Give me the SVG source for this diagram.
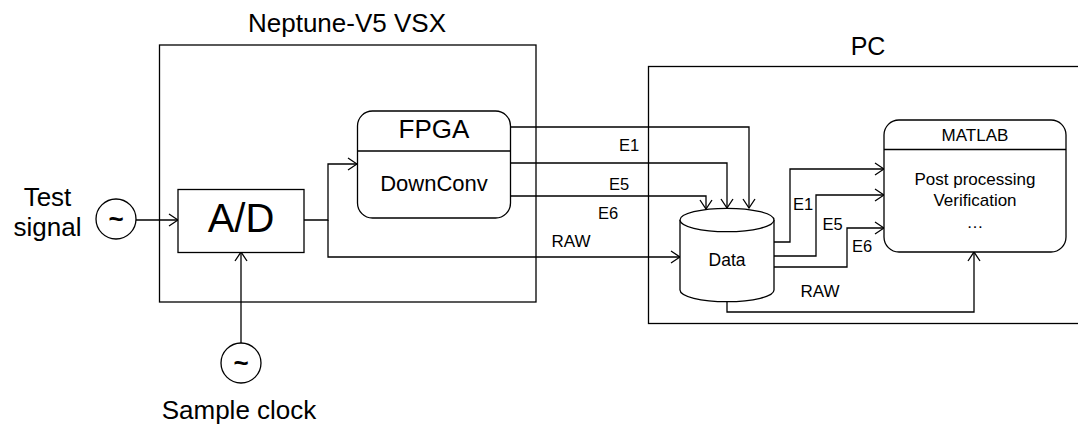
<svg xmlns="http://www.w3.org/2000/svg" width="1078" height="429" viewBox="0 0 1078 429">
<style>
.ln{fill:none;stroke:#000;stroke-width:1.3}
.bx{fill:#fff;stroke:#000;stroke-width:1.3}
.fr{fill:none;stroke:#000;stroke-width:1.3}
text{font-family:"Liberation Sans",Arial,sans-serif;fill:#000;text-anchor:middle}
</style>
<defs>
<marker id="arr" viewBox="-11 -7 12 14" markerWidth="12" markerHeight="14" refX="0" refY="0" orient="auto" markerUnits="userSpaceOnUse">
<path d="M-9,-6 L0,0 L-9,6" fill="none" stroke="#000" stroke-width="1.3"/>
</marker>
</defs>
<rect fill="#fff" width="1078" height="429"/>
<g id="neptune">
<rect class="fr" x="159.5" y="45" width="376.5" height="257"/>
<text x="347" y="32" font-size="26">Neptune-V5 VSX</text>
</g>
<g id="pc">
<rect class="fr" x="648.5" y="66.5" width="500" height="257"/>
<text x="868" y="55" font-size="25">PC</text>
</g>
<g id="connectors">
<path class="ln" d="M136,220 H178" marker-end="url(#arr)"/>
<path class="ln" d="M241,343 V252" marker-end="url(#arr)"/>
<path class="ln" d="M304,220 H328 V164 H357" marker-end="url(#arr)"/>
<path class="ln" d="M328,220 V257 H680" marker-end="url(#arr)"/>
<path class="ln" d="M511,127 H749 V208" marker-end="url(#arr)"/>
<path class="ln" d="M511,163 H727 V208" marker-end="url(#arr)"/>
<path class="ln" d="M511,196 H706 V209" marker-end="url(#arr)"/>
<path class="ln" d="M774,242 H790 V169 H884" marker-end="url(#arr)"/>
<path class="ln" d="M774,256 H816 V195 H884" marker-end="url(#arr)"/>
<path class="ln" d="M774,267 H847 V228 H884" marker-end="url(#arr)"/>
<path class="ln" d="M727,302 V312 H974 V252" marker-end="url(#arr)"/>
<text x="629" y="151" font-size="16.5">E1</text>
<text x="619" y="190" font-size="16.5">E5</text>
<text x="608" y="219" font-size="16.5">E6</text>
<text x="571" y="247" font-size="17">RAW</text>
<text x="803" y="210" font-size="16.5">E1</text>
<text x="832.5" y="230" font-size="16.5">E5</text>
<text x="862" y="252" font-size="16.5">E6</text>
<text x="820" y="297" font-size="17">RAW</text>
</g>
<g id="test-signal">
<circle class="bx" cx="116" cy="219" r="20"/>
<text x="116" y="228" font-size="26" font-weight="bold">~</text>
<text x="47.5" y="206" font-size="26">Test</text>
<text x="47.5" y="236" font-size="26">signal</text>
</g>
<g id="sample-clock">
<circle class="bx" cx="241" cy="363" r="20"/>
<text x="241" y="372" font-size="26" font-weight="bold">~</text>
<text x="239" y="419" font-size="26">Sample clock</text>
</g>
<g id="ad">
<rect class="bx" x="178" y="189.5" width="126" height="63"/>
<text x="241" y="232" font-size="40">A/D</text>
</g>
<g id="fpga">
<rect class="bx" x="357.5" y="111" width="153" height="107" rx="15"/>
<line class="ln" x1="357.5" y1="151" x2="510.5" y2="151"/>
<text x="434" y="138" font-size="26">FPGA</text>
<text x="434" y="191" font-size="22">DownConv</text>
</g>
<g id="data">
<path class="bx" d="M680,220 V290 A47,11.7 0 0 0 774,290 V220"/>
<ellipse class="bx" cx="727" cy="220" rx="47" ry="11.7"/>
<text x="727" y="266" font-size="17.5">Data</text>
</g>
<g id="matlab">
<rect class="bx" x="884" y="120" width="182" height="132" rx="15"/>
<line class="ln" x1="884" y1="149.5" x2="1066" y2="149.5"/>
<text x="975" y="141" font-size="17">MATLAB</text>
<text x="975" y="185" font-size="17">Post processing</text>
<text x="975" y="206" font-size="17">Verification</text>
<text x="975" y="228" font-size="17">…</text>
</g>
</svg>
